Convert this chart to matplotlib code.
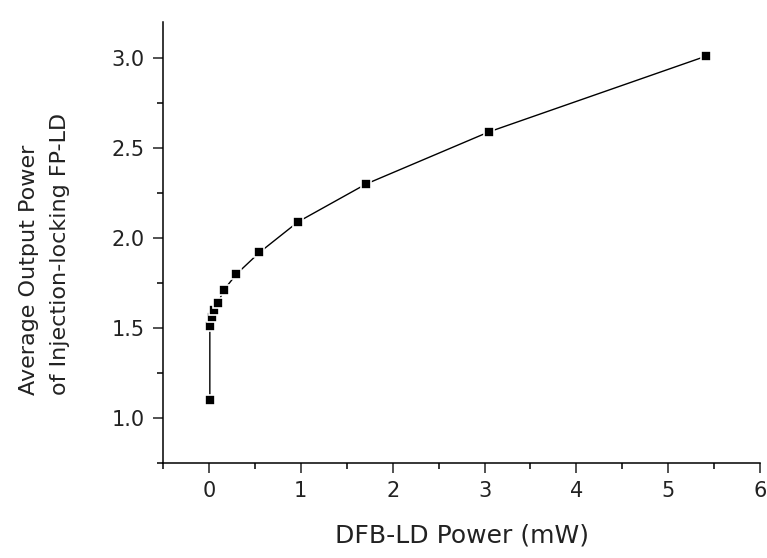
import matplotlib
matplotlib.use('Agg')
import matplotlib.pyplot as plt
from matplotlib.ticker import MultipleLocator

# DFB-LD injection power vs. FP-LD output power
dfb_power = [0.01, 0.01, 0.03, 0.05, 0.10, 0.16, 0.30, 0.55, 0.97, 1.71, 3.05, 5.41]
fp_power = [1.10, 1.51, 1.56, 1.60, 1.64, 1.71, 1.80, 1.92, 2.09, 2.30, 2.59, 3.01]

plt.rcParams['font.family'] = ['DejaVu Sans']

fig = plt.figure(figsize=(7.67, 5.58), dpi=100)
ax = fig.add_axes([0.2125, 0.170, 0.7785, 0.7906])

ax.plot(dfb_power, fp_power, color='black', linewidth=1.0, zorder=2)
ax.plot(dfb_power, fp_power, linestyle='none', marker='s', markersize=7,
        markerfacecolor='black', markeredgecolor='white', markeredgewidth=1.2, zorder=3)

ax.set_xlim(-0.5, 6.0)
ax.set_ylim(0.75, 3.2)
ax.xaxis.set_major_locator(MultipleLocator(1))
ax.xaxis.set_minor_locator(MultipleLocator(0.5))
ax.yaxis.set_major_locator(MultipleLocator(0.5))
ax.yaxis.set_minor_locator(MultipleLocator(0.25))

for side in ['top', 'right']:
    ax.spines[side].set_visible(False)
for side in ['left', 'bottom']:
    ax.spines[side].set_linewidth(1.1)

ax.tick_params(which='major', direction='out', length=7, width=1.1, labelsize=15, pad=6, colors='#222222')
ax.tick_params(which='minor', direction='out', length=4, width=1.1)

ax.set_xlabel('DFB-LD Power (mW)', fontsize=18, color='#222222', labelpad=16)
fig.text(0.058, 0.292, 'Average Output Power\nof Injection-locking FP-LD', fontsize=16,
         color='#222222', rotation=90, ha='center', va='bottom',
         multialignment='left', linespacing=1.7)

fig.savefig('out.png', dpi=100)
